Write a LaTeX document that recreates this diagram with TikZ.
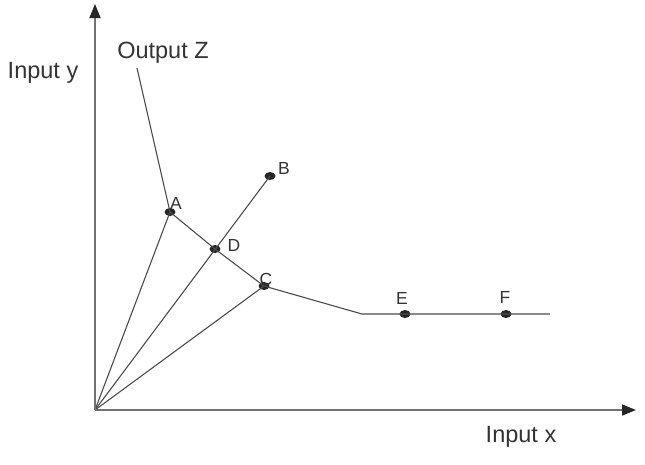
\documentclass[tikz,border=0pt]{standalone}
\usepackage{fontspec}
\setmainfont{Liberation Sans}
\usetikzlibrary{arrows.meta,shapes.geometric}
\begin{document}
\begin{tikzpicture}[x=1pt,y=-1pt,
  axis/.style={draw=black!55,line width=1.6pt,-{Triangle[length=14pt,width=11pt,color=black!85]}},
  curve/.style={draw=black!70,line width=1.1pt},
  dot/.style={ellipse,fill=black!85,minimum width=11pt,minimum height=8pt,inner sep=0pt},
  big/.style={font=\fontsize{23.5}{25}\selectfont,text=black!80},
  small/.style={font=\fontsize{17.5}{19}\selectfont,text=black!80}]
\useasboundingbox (0,0) rectangle (645,464);
\coordinate (O) at (95,410);
\coordinate (ytip) at (95,4);
\coordinate (xtip) at (636,410);
\coordinate (Z0) at (137,68);
\coordinate (K) at (362,314);
\coordinate (Zend) at (550,314);
\node[dot] (A) at (170,212) {};
\node[dot] (B) at (270,176) {};
\node[dot] (D) at (215,249) {};
\node[dot] (C) at (264,286) {};
\node[dot] (E) at (405,314) {};
\node[dot] (F) at (506,314) {};
\draw[curve] (O) -- (A.center);
\draw[curve] (O) -- (B.center);
\draw[curve] (O) -- (C.center);
\draw[curve] (Z0) -- (A.center) -- (D.center) -- (C.center) -- (K) -- (Zend);
\draw[axis] (O) -- (ytip);
\draw[axis] (O) -- (xtip);
\node[big] (lz) at (163,53) {Output Z};
\node[big] (ly) at (43,73) {Input y};
\node[big] (lx) at (521,437) {Input x};
\node[small] (la) at (176,203) {A};
\node[small] (lb) at (284,168) {B};
\node[small] (ld) at (234,245) {D};
\node[small] (lc) at (266,279) {C};
\node[small] (le) at (402,298) {E};
\node[small] (lf) at (505,297) {F};
\end{tikzpicture}
\end{document}
